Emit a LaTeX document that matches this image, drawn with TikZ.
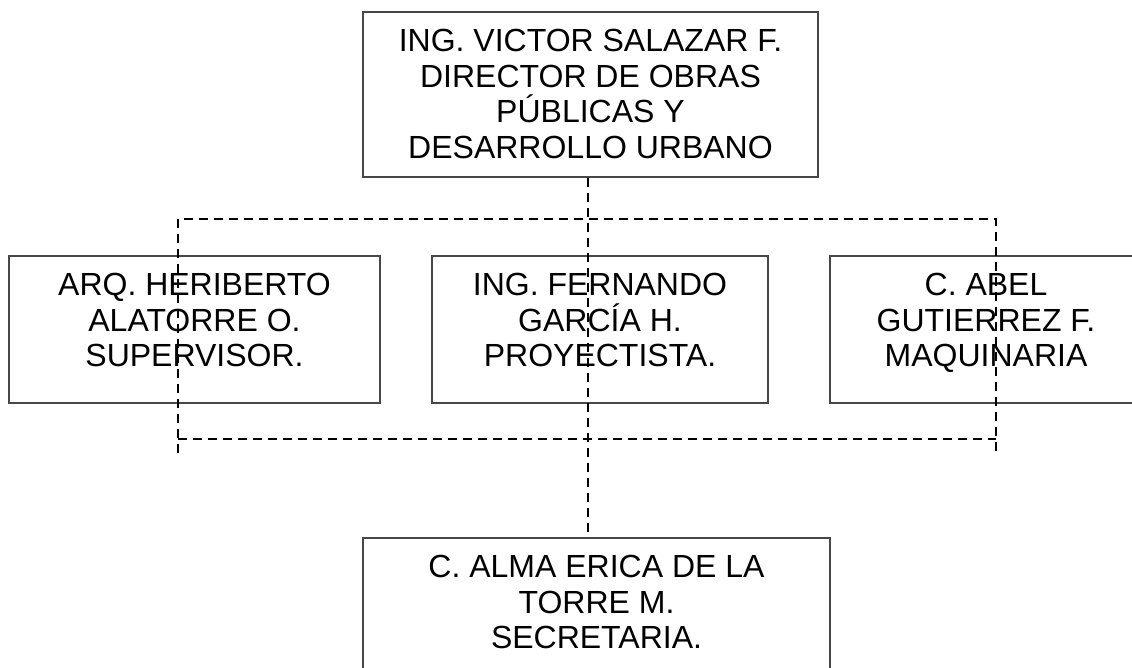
\documentclass[tikz,border=0pt]{standalone}
\usepackage{fontspec}
\setmainfont{Liberation Sans}
\begin{document}
\begin{tikzpicture}[x=1pt,y=-1pt,
  box/.style={draw=black!72, line width=1.4pt, rectangle, inner sep=0pt},
  txt/.style={inner sep=0pt, align=center, anchor=north, font=\fontsize{32}{35.5}\selectfont},
  link/.style={draw=black, line width=2.6pt, dash pattern=on 9pt off 6pt}]
\useasboundingbox (0,0) rectangle (1132,668);
% boxes
\node[box, minimum width=455pt, minimum height=165pt] (top) at (590.5,94.5) {};
\node[box, minimum width=371pt, minimum height=147pt] (left) at (194.5,329.5) {};
\node[box, minimum width=336pt, minimum height=147pt] (mid) at (600,329.5) {};
\node[box, minimum width=312pt, minimum height=147pt] (right) at (986,329.5) {};
\node[box, minimum width=467pt, minimum height=160pt] (bot) at (596.5,618) {};
% texts
\node[txt] (topt) at ([yshift=-18pt]top.north) {ING. VICTOR SALAZAR F.\\DIRECTOR DE OBRAS\\PÚBLICAS Y\\DESARROLLO URBANO};
\node[txt] (leftt) at ([yshift=-18pt]left.north) {ARQ. HERIBERTO\\ALATORRE O.\\SUPERVISOR.};
\node[txt] (midt) at ([yshift=-18pt]mid.north) {ING. FERNANDO\\GARCÍA H.\\PROYECTISTA.};
\node[txt] (rightt) at ([yshift=-18pt]right.north) {C. ABEL\\GUTIERREZ F.\\MAQUINARIA};
\node[txt] (bott) at ([yshift=-18pt]bot.north) {C. ALMA ERICA DE LA\\TORRE M.\\SECRETARIA.};
% connectors
\coordinate (jc) at (588,219);
\coordinate (jl) at (178,219);
\coordinate (jr) at (996,219);
\coordinate (bl) at (178,439);
\coordinate (br) at (996,439);
\coordinate (el) at (178,453);
\coordinate (er) at (996,453);
\draw[link] (top.south -| jc) -- (bot.north -| jc);
\draw[link] (el) -- (jl) -- (jr) -- (er);
\draw[link] (bl) -- (br);
\end{tikzpicture}
\end{document}
